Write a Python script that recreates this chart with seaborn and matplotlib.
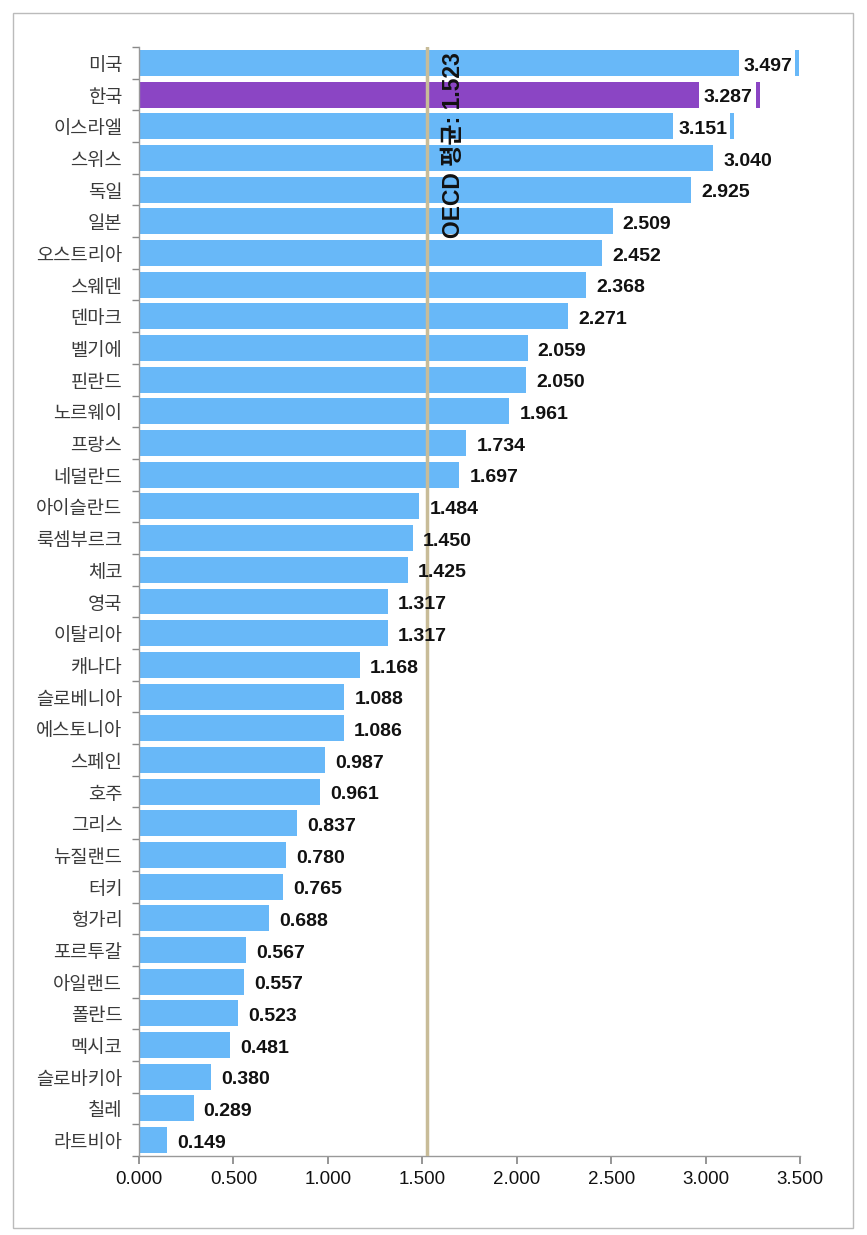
import matplotlib
matplotlib.use("Agg")
import matplotlib.pyplot as plt
import seaborn as sns
import pandas as pd
import numpy as np
from matplotlib.patches import Rectangle

countries = ["미국", "한국", "이스라엘", "스위스", "독일", "일본", "오스트리아", "스웨덴", "덴마크", "벨기에",
             "핀란드", "노르웨이", "프랑스", "네덜란드", "아이슬란드", "룩셈부르크", "체코", "영국", "이탈리아", "캐나다",
             "슬로베니아", "에스토니아", "스페인", "호주", "그리스", "뉴질랜드", "터키", "헝가리", "포르투갈", "아일랜드",
             "폴란드", "멕시코", "슬로바키아", "칠레", "라트비아"]
values = [3.497, 3.287, 3.151, 3.040, 2.925, 2.509, 2.452, 2.368, 2.271, 2.059,
          2.050, 1.961, 1.734, 1.697, 1.484, 1.450, 1.425, 1.317, 1.317, 1.168,
          1.088, 1.086, 0.987, 0.961, 0.837, 0.780, 0.765, 0.688, 0.567, 0.557,
          0.523, 0.481, 0.380, 0.289, 0.149]
oecd_avg = 1.523
x_ticks = [0.0, 0.5, 1.0, 1.5, 2.0, 2.5, 3.0, 3.5]
highlight = "한국"

BLUE = "#68b8f8"
PURPLE = "#8b45c4"
LATIN = ['Liberation Sans', 'Noto Sans CJK KR', 'DejaVu Sans']

sns.set_theme(style="white")
plt.rcParams['font.family'] = ['Noto Sans CJK KR', 'DejaVu Sans']

df = pd.DataFrame({"country": countries, "value": values})
palette = {c: (PURPLE if c == highlight else BLUE) for c in countries}

W, H = 867, 1235
fig = plt.figure(figsize=(W / 100, H / 100), dpi=100)
ax = fig.add_axes([139 / W, 1 - 1156 / H, (800 - 139) / W, (1156 - 47) / H])

sns.barplot(data=df, y="country", x="value", hue="country", palette=palette,
            legend=False, orient="h", width=0.82, ax=ax, saturation=1, edgecolor="none")

ax.set_xlim(0, 3.5)
ax.set_ylim(len(countries) - 0.5, -0.5)
ax.set_xticks(x_ticks)
ax.set_xticklabels([f"{t:.3f}" for t in x_ticks], fontsize=13.5, color="#111111", family=LATIN)
ax.set_yticks(range(len(countries)))
ax.set_yticklabels(countries, fontsize=13.5, color="#3a3a3a")
ax.set_yticks(np.arange(-0.5, len(countries), 1), minor=True)
ax.tick_params(axis="y", which="major", length=0, pad=12)
ax.tick_params(axis="y", which="minor", length=5, color="#888888", direction="out", left=True)
ax.tick_params(axis="x", which="major", length=6, color="#888888", direction="out", bottom=True, pad=5)
ax.set_xlabel("")
ax.set_ylabel("")
for s in ["top", "right"]:
    ax.spines[s].set_visible(False)
for s in ["left", "bottom"]:
    ax.spines[s].set_color("#999999")
    ax.spines[s].set_linewidth(1)
ax.grid(False)

# OECD average line
ax.axvline(oecd_avg, color="#c8bc98", linewidth=2.5, zorder=3)
ax.text(oecd_avg + 0.14, -0.33, f"OECD 평균: {oecd_avg:.3f}", rotation=90,
        ha="center", va="top", fontsize=16.5, fontweight="bold", color="#111111", zorder=6,
        family=LATIN)

# value labels
px_per_unit = (800 - 139) / 3.5
dy = 0.1
inside = []
for i, v in enumerate(values):
    label = f"{v:.3f}"
    if v > 3.1:
        t = ax.text(v - 7 / px_per_unit, i + dy, label, ha="right", va="center", fontsize=14,
                    fontweight="bold", color="#111111", family=LATIN, zorder=5)
        inside.append((t, i))
    else:
        ax.text(v + 10 / px_per_unit, i + dy, label, ha="left", va="center", fontsize=14,
                fontweight="bold", color="#111111", family=LATIN, zorder=5)

fig.canvas.draw()
renderer = fig.canvas.get_renderer()
inv = ax.transData.inverted()
for t, i in inside:
    bb = t.get_window_extent(renderer)
    x0 = inv.transform((bb.x0 - 5, 0))[0]
    x1 = inv.transform((bb.x1 + 3, 0))[0]
    ax.add_patch(Rectangle((x0, i - 0.45), x1 - x0, 0.9, facecolor="white",
                           edgecolor="none", zorder=4))

# outer border
fig.patches.append(Rectangle((13 / W, 1 - 1228 / H), (853 - 13) / W, (1228 - 13) / H,
                             transform=fig.transFigure, fill=False, ec="#bbbbbb", lw=1))

fig.savefig("out.png", dpi=100)
